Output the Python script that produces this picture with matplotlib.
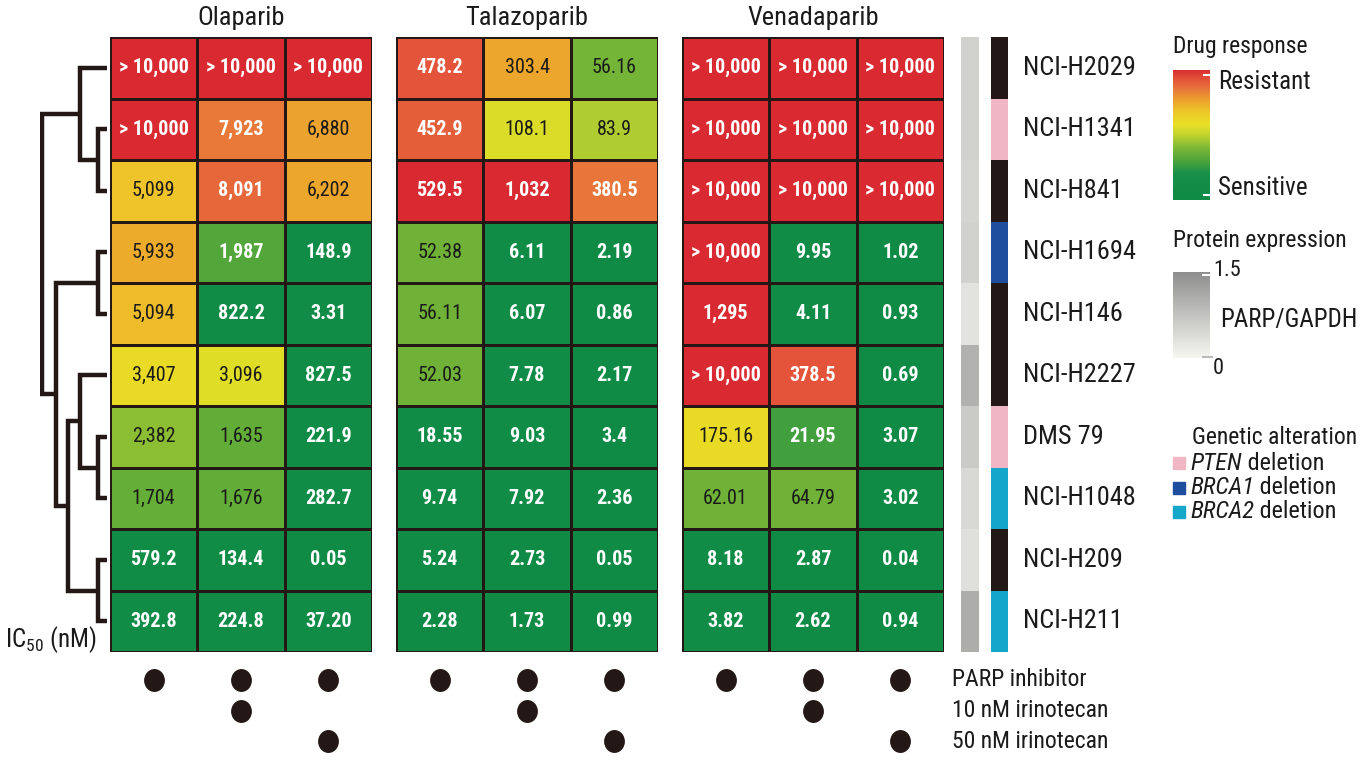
import numpy as np
import matplotlib
matplotlib.use("Agg")
import matplotlib.pyplot as plt
from matplotlib import font_manager
from matplotlib.colors import LinearSegmentedColormap, ListedColormap
from matplotlib.patches import Rectangle
from matplotlib.path import Path
from matplotlib.transforms import Affine2D

# Fuente estrecha (parecida a Helvetica Condensed), si existe
installed = {f.name for f in font_manager.fontManager.ttflist}
narrow = [f for f in ['Roboto Condensed', 'Archivo Narrow', 'Liberation Sans Narrow'] if f in installed]
plt.rcParams['font.family'] = narrow[:1] + ['Liberation Sans', 'DejaVu Sans']
plt.rcParams['mathtext.default'] = 'regular'

# Datos
drugs = ['Olaparib', 'Talazoparib', 'Venadaparib']
cell_lines = ['NCI-H2029', 'NCI-H1341', 'NCI-H841', 'NCI-H1694', 'NCI-H146',
              'NCI-H2227', 'DMS 79', 'NCI-H1048', 'NCI-H209', 'NCI-H211']

ic50_olaparib = [['> 10,000', '> 10,000', '> 10,000'],
                 ['> 10,000', '7,923', '6,880'],
                 ['5,099', '8,091', '6,202'],
                 ['5,933', '1,987', '148.9'],
                 ['5,094', '822.2', '3.31'],
                 ['3,407', '3,096', '827.5'],
                 ['2,382', '1,635', '221.9'],
                 ['1,704', '1,676', '282.7'],
                 ['579.2', '134.4', '0.05'],
                 ['392.8', '224.8', '37.20']]
ic50_talazoparib = [['478.2', '303.4', '56.16'],
                    ['452.9', '108.1', '83.9'],
                    ['529.5', '1,032', '380.5'],
                    ['52.38', '6.11', '2.19'],
                    ['56.11', '6.07', '0.86'],
                    ['52.03', '7.78', '2.17'],
                    ['18.55', '9.03', '3.4'],
                    ['9.74', '7.92', '2.36'],
                    ['5.24', '2.73', '0.05'],
                    ['2.28', '1.73', '0.99']]
ic50_venadaparib = [['> 10,000', '> 10,000', '> 10,000'],
                    ['> 10,000', '> 10,000', '> 10,000'],
                    ['> 10,000', '> 10,000', '> 10,000'],
                    ['> 10,000', '9.95', '1.02'],
                    ['1,295', '4.11', '0.93'],
                    ['> 10,000', '378.5', '0.69'],
                    ['175.16', '21.95', '3.07'],
                    ['62.01', '64.79', '3.02'],
                    ['8.18', '2.87', '0.04'],
                    ['3.82', '2.62', '0.94']]

score_olaparib = [[1.00, 1.00, 1.00],
                  [1.00, 0.84, 0.76],
                  [0.68, 0.88, 0.75],
                  [0.74, 0.31, 0.05],
                  [0.70, 0.05, 0.03],
                  [0.60, 0.56, 0.05],
                  [0.42, 0.34, 0.05],
                  [0.35, 0.34, 0.05],
                  [0.03, 0.03, 0.02],
                  [0.03, 0.03, 0.03]]
score_talazoparib = [[0.92, 0.75, 0.38],
                     [0.90, 0.55, 0.47],
                     [1.00, 1.00, 0.85],
                     [0.37, 0.03, 0.02],
                     [0.37, 0.03, 0.02],
                     [0.37, 0.03, 0.02],
                     [0.04, 0.03, 0.02],
                     [0.03, 0.03, 0.02],
                     [0.03, 0.02, 0.02],
                     [0.02, 0.02, 0.02]]
score_venadaparib = [[1.00, 1.00, 1.00],
                     [1.00, 1.00, 1.00],
                     [1.00, 1.00, 1.00],
                     [1.00, 0.03, 0.02],
                     [1.00, 0.03, 0.02],
                     [1.00, 0.92, 0.02],
                     [0.60, 0.28, 0.02],
                     [0.37, 0.37, 0.02],
                     [0.03, 0.02, 0.02],
                     [0.03, 0.02, 0.02]]

parp_gapdh = [0.55, 0.55, 0.5, 0.55, 0.3, 1.0, 0.65, 0.45, 0.35, 1.05]
alteration = ['none', 'PTEN', 'none', 'BRCA1', 'none', 'none', 'PTEN', 'BRCA2', 'none', 'BRCA2']
alteration_types = ['none', 'PTEN', 'BRCA1', 'BRCA2']

treatments = ['PARP inhibitor', '10 nM irinotecan', '50 nM irinotecan']
treatment_matrix = [[1, 1, 1],
                    [0, 1, 0],
                    [0, 0, 1]]

# Dendrograma: (hijo izq, hijo der, altura); nodos nuevos numerados desde 10
linkage = [(1, 2, 9), (3, 4, 9), (6, 7, 9), (8, 9, 9),
           (0, 10, 26), (5, 12, 26), (15, 13, 38), (11, 16, 49), (14, 17, 63)]

ic50 = [ic50_olaparib, ic50_talazoparib, ic50_venadaparib]
scores = [score_olaparib, score_talazoparib, score_venadaparib]

# Colores
dark = '#231815'
txt = '#1a1a1a'
resp_cmap = LinearSegmentedColormap.from_list('resp', [
    (0.0, '#0F8B46'), (0.2, '#17904A'), (0.3, '#4DA43A'), (0.4, '#7EB936'),
    (0.5, '#C4D52E'), (0.58, '#E8E024'), (0.68, '#EEC52A'), (0.75, '#EDA72C'),
    (0.85, '#E8763A'), (0.92, '#E3553A'), (1.0, '#DA2A31')])
grey_cmap = LinearSegmentedColormap.from_list('grey', ['#F7F7F2', '#8E8E8E'])
alt_colors = {'none': dark, 'PTEN': '#F1B6C4', 'BRCA1': '#1F4E9E', 'BRCA2': '#15A7C9'}

W, H = 1366, 764
fig = plt.figure(figsize=(W / 100, H / 100), dpi=100)


def px_axes(x, y, w, h):
    ax = fig.add_axes([x / W, 1 - (y + h) / H, w / W, h / H])
    ax.set_axis_off()
    return ax


def fig_text(x, y, s, **kw):
    return fig.text(x / W, 1 - y / H, s, **kw)


top, height = 37, 615
n = len(cell_lines)
panel_x = [110, 396, 682]
dot = Path.unit_circle().transformed(Affine2D().scale(0.9, 1.0))

# Mapas de calor
for k, drug in enumerate(drugs):
    ax = px_axes(panel_x[k], top, 262, height)
    s = np.array(scores[k])
    ax.pcolormesh(s, cmap=resp_cmap, vmin=0, vmax=1, edgecolors=dark, linewidth=0.9)
    ax.add_patch(Rectangle((0, 0), 3, n, fill=False, edgecolor=dark, linewidth=1.2))
    ax.set_xlim(0, 3)
    ax.set_ylim(n, 0)
    for i in range(n):
        for j in range(3):
            white = s[i, j] >= 0.8 or s[i, j] < 0.32
            ax.text(j + 0.5, i + 0.5, ic50[k][i][j], ha='center', va='center',
                    fontsize=14.5, color='white' if white else txt,
                    fontweight='bold' if white else 'normal')
    fig_text(panel_x[k] + 131, 18, drug, ha='center', va='center', fontsize=19, color=txt)

    # Matriz de tratamientos
    axd = px_axes(panel_x[k], 664.75, 262, 91.5)
    axd.set_xlim(0, 3)
    axd.set_ylim(2.5, -0.5)
    for r in range(len(treatments)):
        for j in range(3):
            if treatment_matrix[r][j]:
                axd.scatter(j + 0.5, r, s=240, color=dark, marker=dot, clip_on=False)

for r, t in enumerate(treatments):
    fig_text(952, 680 + 30.5 * r, t, ha='left', va='center', fontsize=17, color=txt)

# Barra de expresion proteica
axp = px_axes(961, top, 18, height)
axp.pcolormesh(np.array(parp_gapdh)[:, None], cmap=grey_cmap, vmin=0, vmax=1.5)
axp.set_ylim(n, 0)

# Barra de alteraciones geneticas
axg = px_axes(991, top, 17, height)
codes = np.array([alteration_types.index(a) for a in alteration])[:, None]
axg.pcolormesh(codes, cmap=ListedColormap([alt_colors[a] for a in alteration_types]),
               vmin=-0.5, vmax=len(alteration_types) - 0.5)
axg.set_ylim(n, 0)

for i, name in enumerate(cell_lines):
    fig_text(1023, top + height * (i + 0.5) / n, name, ha='left', va='center',
             fontsize=19, color=txt)

# Dendrograma
axt = px_axes(40, top, 67, height)
pos = {i: i + 0.5 for i in range(n)}
hgt = {i: 0 for i in range(n)}
for idx, (a, b, h) in enumerate(linkage):
    axt.plot([hgt[a], h, h, hgt[b]], [pos[a], pos[a], pos[b], pos[b]],
             color=dark, linewidth=3.2, solid_joinstyle='miter', solid_capstyle='butt')
    pos[n + idx] = (pos[a] + pos[b]) / 2
    hgt[n + idx] = h
axt.set_xlim(65, 0)
axt.set_ylim(n, 0)

fig_text(5, 640, 'IC$_{50}$ (nM)', ha='left', va='center', fontsize=18, color=txt)

# Leyenda: respuesta
fig_text(1173, 47, 'Drug response', ha='left', va='center', fontsize=17, color=txt)
axc = px_axes(1173, 70, 37, 130)
axc.imshow(np.linspace(1, 0, 256)[:, None], cmap=resp_cmap, vmin=0, vmax=1, aspect='auto',
           extent=(0, 1, 0, 1))
axc.set_xlim(0, 1)
axc.set_ylim(0, 1)
for yy in (0.96, 0.04):
    axc.plot([0.85, 1.05], [yy, yy], color='white', linewidth=1.5, clip_on=False)
fig_text(1218, 82, 'Resistant', ha='left', va='center', fontsize=18, color=txt)
fig_text(1218, 188, 'Sensitive', ha='left', va='center', fontsize=18, color=txt)

# Leyenda: expresion
fig_text(1173, 240, 'Protein expression', ha='left', va='center', fontsize=17, color=txt)
axq = px_axes(1173, 272, 37, 86)
axq.imshow(np.linspace(1.5, 0, 256)[:, None], cmap=grey_cmap, vmin=0, vmax=1.5, aspect='auto',
           extent=(0, 1, 0, 1.5))
axq.set_xlim(0, 1)
axq.set_ylim(0, 1.5)
axq.plot([0.8, 1.05], [1.45, 1.45], color='white', linewidth=1.5, clip_on=False)
axq.plot([0.8, 1.05], [0.02, 0.02], color='#bbbbbb', linewidth=1.5, clip_on=False)
fig_text(1213, 270, '1.5', ha='left', va='center', fontsize=16, color=txt)
fig_text(1213, 368, '0', ha='left', va='center', fontsize=16, color=txt)
fig_text(1220, 320, 'PARP/GAPDH', ha='left', va='center', fontsize=18, color=txt)

# Leyenda: alteraciones
fig_text(1192, 437, 'Genetic alteration', ha='left', va='center', fontsize=17, color=txt)
for r, gene in enumerate(alteration_types[1:]):
    y = 463 + 24.5 * r
    fig.add_artist(Rectangle((1173 / W, 1 - (y + 6) / H), 12 / W, 12 / H,
                             transform=fig.transFigure, color=alt_colors[gene]))
    t = fig_text(1190, y, gene, ha='left', va='center', fontsize=17.5, style='italic', color=txt)
    fig.add_artist(matplotlib.text.Annotation(' deletion', xy=(1, 0), xycoords=t, ha='left',
                                              va='bottom', fontsize=17.5, color=txt,
                                              annotation_clip=False))

fig.savefig('out.png', dpi=100, facecolor='white')
